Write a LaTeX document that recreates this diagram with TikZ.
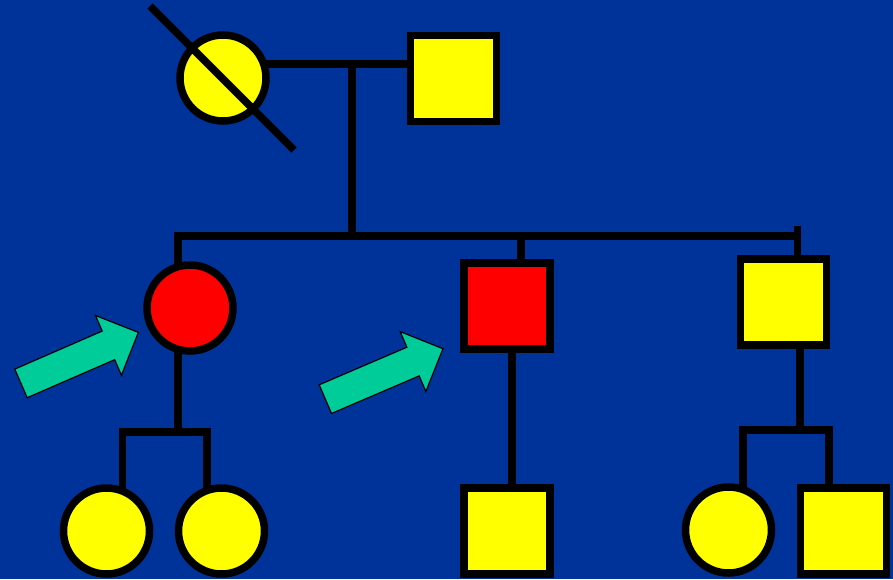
\documentclass[tikz,border=0pt]{standalone}
\usepackage{tikz}
\usetikzlibrary{shapes.arrows,calc}
\definecolor{bgblue}{RGB}{0,51,153}
\definecolor{probgreen}{RGB}{0,204,153}
\definecolor{unaff}{RGB}{255,255,0}

\begin{document}
\begin{tikzpicture}[
  x=1pt, y=-1pt,
  person/.style={draw=black, line width=7.5pt, minimum size=86pt, inner sep=0pt, fill=unaff},
  female/.style={person, circle},
  male/.style={person, rectangle},
  affected/.style={fill=red},
  line/.style={draw=black, line width=7.5pt, line cap=rect},
  proband/.style={single arrow, draw=black, line width=1.2pt, fill=probgreen,
    inner xsep=0pt, inner ysep=15pt, minimum height=128pt,
    single arrow head extend=17pt, single arrow head indent=0pt}
]
\useasboundingbox (0,0) rectangle (893,579);
\fill[bgblue] (0,0) rectangle (893,579);

% parents
\node[female] (gm) at (223,78) {};
\node[male] (gf) at (453.5,78.5) {};
% children
\node[female, affected] (c1) at (190,308) {};
\node[male, affected] (c2) at (507,306) {};
\node[male] (c3) at (783.5,302) {};
% grandchildren
\node[female] (g1) at (106.5,531) {};
\node[female] (g2) at (221.5,531) {};
\node[male] (g3) at (507,531) {};
\node[female] (g4) at (728.5,530) {};
\node[male] (g5) at (843.5,531) {};

% probands
\node[proband, rotate=23.5] (p1) at (72.5,361) {};
\node[proband, rotate=23.2] (p2) at (377,377) {};

\coordinate (mate) at (352,64);
\coordinate (sib) at (352,236);
\coordinate (sibR) at (797.5,230);
\coordinate (d2) at (521,236);
\coordinate (k1) at (179,432);
\coordinate (k3) at (800,430);

\draw[line] (mate -| gm.east) -- (mate -| gf.west);
\draw[line] (mate) -- (sib);
\draw[line] (c1.105) |- (sibR |- sib);
\draw[line] (sibR) -- (sibR |- c3.north);
\draw[line] (d2) -- (d2 |- c2.north);

\draw[line] (c1.-105) -- (c1.-105 |- k1);
\draw[line] (g1.70) |- (k1) -| (g2.108);
\draw[line] ($(c2.south)+(5,0)$) -- ($(g3.north)+(5,0)$);
\draw[line] (c3.south -| k3) -- (k3);
\draw[line] (g4.72) |- (k3) -| ($(g5.north)+(-14.5,0)$);

% deceased
\draw[line, line cap=butt] ($(gm)+(-73,-72)$) -- ($(gm)+(71,72)$);
\end{tikzpicture}
\end{document}
